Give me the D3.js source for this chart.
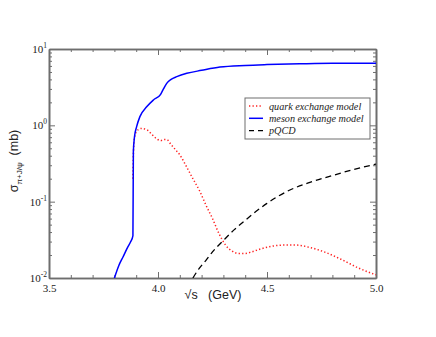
<!DOCTYPE html>
<html>
<head>
<meta charset="utf-8">
<script src="https://cdn.jsdelivr.net/npm/d3@7"></script>
<style>
  body { margin: 0; background: #fff; }
  svg { display: block; }
</style>
</head>
<body>
<div id="chart"></div>
<script>
// Data (sqrt s in GeV, sigma in mb)
let mesonS   = [3.80, 3.82, 3.84, 3.86, 3.875, 3.885, 3.887, 3.892, 3.902, 3.917, 3.948, 3.979, 4.012, 4.025, 4.04, 4.06, 4.086, 4.132, 4.2, 4.284, 4.4, 4.5, 4.65, 4.8, 5.0];
let mesonSig = [0.010, 0.0145, 0.019, 0.025, 0.030, 0.036, 0.45, 0.70, 0.96, 1.3, 1.75, 2.15, 2.55, 3.0, 3.55, 4.0, 4.34, 4.8, 5.25, 5.8, 6.1, 6.25, 6.4, 6.5, 6.5];

let quarkS   = [3.885, 3.888, 3.895, 3.91, 3.925, 3.95, 3.97, 3.99, 4.012, 4.025, 4.04, 4.06, 4.08, 4.10, 4.13, 4.16, 4.19, 4.22, 4.25, 4.28, 4.31, 4.34, 4.37, 4.40, 4.43, 4.47, 4.52, 4.58, 4.63, 4.70, 4.78, 4.85, 4.92, 5.0];
let quarkSig = [0.20, 0.50, 0.75, 0.88, 0.91, 0.87, 0.77, 0.68, 0.63, 0.65, 0.65, 0.56, 0.48, 0.41, 0.29, 0.20, 0.14, 0.09, 0.06, 0.038, 0.027, 0.0225, 0.021, 0.021, 0.022, 0.024, 0.026, 0.027, 0.027, 0.025, 0.021, 0.017, 0.0135, 0.011];

let pqcdS   = [4.16, 4.19, 4.22, 4.25, 4.30, 4.35, 4.40, 4.50, 4.60, 4.70, 4.80, 4.90, 5.0];
let pqcdSig = [0.010, 0.0135, 0.017, 0.022, 0.031, 0.043, 0.057, 0.095, 0.14, 0.18, 0.22, 0.265, 0.31];

let xMajor = [3.5, 4.0, 4.5, 5.0];
let xMinor = [3.6, 3.7, 3.8, 3.9, 4.1, 4.2, 4.3, 4.4, 4.6, 4.7, 4.8, 4.9];
let yMajor = [0.01, 0.1, 1, 10];
let yExp   = ["-2", "-1", "0", "1"];

let legendLabels = ["quark exchange model", "meson exchange model", "pQCD"];

// Layout
let svgWidth = 436, svgHeight = 337;
let margin = { top: 49, right: 60, bottom: 59, left: 49 };
let chartWidth = svgWidth - margin.left - margin.right;
let chartHeight = svgHeight - margin.top - margin.bottom;

let serif = '"Liberation Serif", "Times New Roman", "DejaVu Serif", serif';
let sans = '"Liberation Sans", Arial, Helvetica, sans-serif';

let svg = d3.select('#chart')
            .append('svg')
            .attr('width', svgWidth)
            .attr('height', svgHeight);

let chartGrp = svg.append('g')
            .attr('transform', `translate(${margin.left}, ${margin.top})`);

let xScale = d3.scaleLinear().domain([3.5, 5.0]).range([0, chartWidth]);
let yScale = d3.scaleLog().domain([0.01, 10]).range([chartHeight, 0]);

let yMinor = [];
for (let d = 0.01; d < 10; d *= 10) {
    for (let k = 2; k <= 9; k++) yMinor.push(+(d * k).toPrecision(3));
}

let axisColor = '#6e6e6e';

// Axes, ticks pointing inward on all four sides
function styleAxis(g) {
    g.select('.domain').attr('stroke', axisColor).attr('stroke-width', 1.6);
    g.selectAll('.tick line').attr('stroke', axisColor).attr('stroke-width', 1);
}

function addAxis(axisFn, scale, vals, size, transform) {
    let g = chartGrp.append('g')
        .attr('transform', transform)
        .call(axisFn(scale).tickValues(vals).tickSize(size).tickSizeOuter(0).tickFormat(''));
    styleAxis(g);
    return g;
}

// bottom, with labels
let xAxisG = chartGrp.append('g')
    .attr('transform', `translate(0,${chartHeight})`)
    .call(d3.axisBottom(xScale).tickValues(xMajor).tickSize(-6).tickSizeOuter(0)
          .tickPadding(6).tickFormat(d3.format('.1f')));
styleAxis(xAxisG);
xAxisG.selectAll('text')
    .style('font-family', serif)
    .style('font-size', '11px')
    .attr('fill', '#222');
addAxis(d3.axisBottom, xScale, xMinor, -3, `translate(0,${chartHeight})`);
// top
addAxis(d3.axisTop, xScale, xMajor, -6, 'translate(0,0)');
addAxis(d3.axisTop, xScale, xMinor, -3, 'translate(0,0)');
// left
addAxis(d3.axisLeft, yScale, yMajor, -6, 'translate(0,0)');
addAxis(d3.axisLeft, yScale, yMinor, -3, 'translate(0,0)');
// right
addAxis(d3.axisRight, yScale, yMajor, -6, `translate(${chartWidth},0)`);
addAxis(d3.axisRight, yScale, yMinor, -3, `translate(${chartWidth},0)`);

// y tick labels with superscript exponents
yMajor.forEach((v, i) => {
    let t = chartGrp.append('text')
        .attr('x', -2)
        .attr('y', yScale(v) + 4)
        .attr('text-anchor', 'end')
        .style('font-family', serif)
        .style('font-size', '11px')
        .attr('fill', '#222');
    t.append('tspan').text('10');
    t.append('tspan').attr('dy', -5).style('font-size', '7.5px').text(yExp[i]);
});

// Curves
let line = d3.line()
    .x(d => xScale(d[0]))
    .y(d => yScale(d[1]))
    .curve(d3.curveMonotoneX);

svg.append('clipPath').attr('id', 'clip')
    .append('rect').attr('width', chartWidth).attr('height', chartHeight);

let curves = chartGrp.append('g').attr('clip-path', 'url(#clip)');

curves.append('path')
    .datum(d3.zip(quarkS, quarkSig))
    .attr('d', line)
    .attr('fill', 'none')
    .attr('stroke', '#ff2020')
    .attr('stroke-width', 1.5)
    .attr('stroke-dasharray', '1.3,2.2');

curves.append('path')
    .datum(d3.zip(pqcdS, pqcdSig))
    .attr('d', line)
    .attr('fill', 'none')
    .attr('stroke', '#000')
    .attr('stroke-width', 1.3)
    .attr('stroke-dasharray', '6,4');

curves.append('path')
    .datum(d3.zip(mesonS, mesonSig))
    .attr('d', line)
    .attr('fill', 'none')
    .attr('stroke', '#0000ff')
    .attr('stroke-width', 1.5);

// Legend
let legX = 245 - margin.left, legY = 98 - margin.top;
let legend = chartGrp.append('g').attr('transform', `translate(${legX},${legY})`);
legend.append('rect')
    .attr('width', 125).attr('height', 41)
    .attr('fill', '#fff')
    .attr('stroke', axisColor)
    .attr('stroke-width', 1);

let legStyles = [
    { color: '#ff2020', dash: '1.3,2.2', width: 1.5 },
    { color: '#0000ff', dash: null, width: 1.5 },
    { color: '#000', dash: '5,4', width: 1.3 }
];

legendLabels.forEach((lab, i) => {
    let y = 8 + i * 12.3;
    legend.append('line')
        .attr('x1', 4).attr('x2', 18)
        .attr('y1', y).attr('y2', y)
        .attr('stroke', legStyles[i].color)
        .attr('stroke-width', legStyles[i].width)
        .attr('stroke-dasharray', legStyles[i].dash);
    legend.append('text')
        .attr('x', 24).attr('y', y + 3.5)
        .style('font-family', serif)
        .style('font-style', 'italic')
        .style('font-size', '10.2px')
        .attr('fill', '#222')
        .text(lab);
});

// Axis titles
svg.append('text')
    .attr('x', 213).attr('y', 299)
    .attr('text-anchor', 'middle')
    .style('font-family', sans)
    .style('font-size', '12.5px')
    .style('white-space', 'pre')
    .attr('fill', '#222')
    .text('\u221As   (GeV)');

let yTitle = svg.append('text')
    .attr('transform', 'translate(18,161) rotate(-90)')
    .attr('text-anchor', 'middle')
    .style('font-family', sans)
    .style('font-size', '12.5px')
    .attr('fill', '#222');
yTitle.append('tspan').text('\u03C3');
yTitle.append('tspan').attr('dy', 4).style('font-size', '8px').text('\u03C0+J/\u03C8');
yTitle.append('tspan').attr('dy', -4).text('\u00A0\u00A0(mb)');
</script>
</body>
</html>
